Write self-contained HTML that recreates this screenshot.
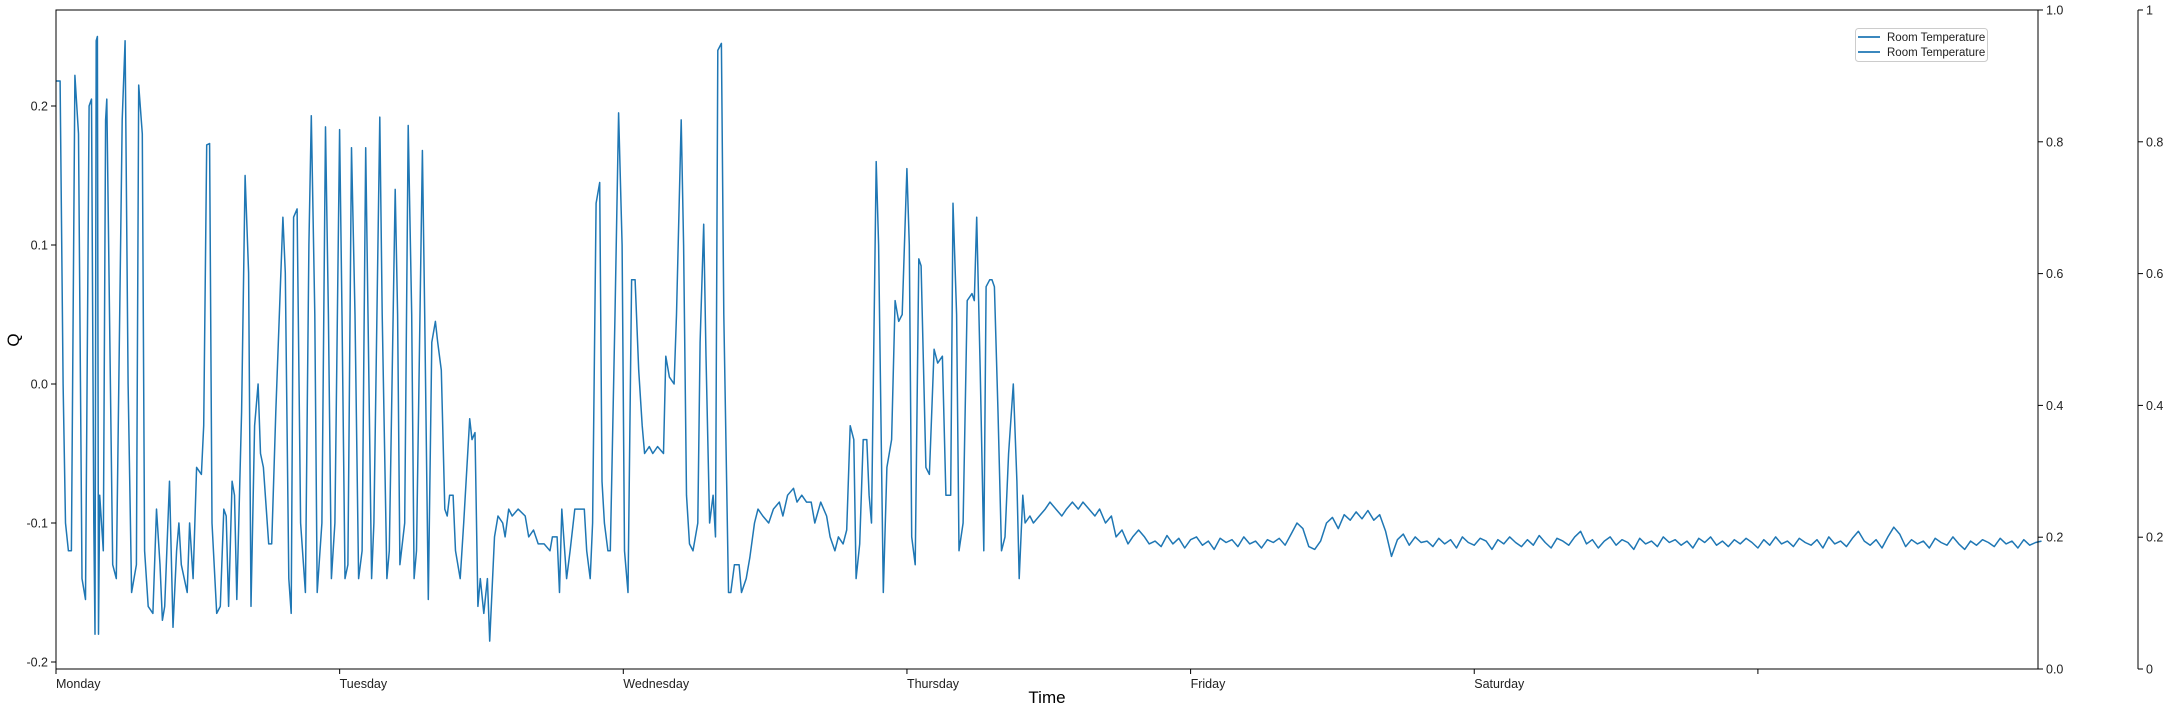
<!DOCTYPE html>
<html><head><meta charset="utf-8"><style>
html,body{margin:0;padding:0;background:#fff;}
svg{display:block;font-family:"Liberation Sans","DejaVu Sans",sans-serif;}
</style></head><body>
<svg id="chart" width="2168" height="712" viewBox="0 0 2168 712"></svg>
<script>
// ---- data ----
const dayLabels = ["Monday","Tuesday","Wednesday","Thursday","Friday","Saturday",""];
const leftTicks = [-0.2,-0.1,0.0,0.1,0.2];
const rightTicks = [0.0,0.2,0.4,0.6,0.8,1.0];
const rightTicks2 = [0,0.2,0.4,0.6,0.8,1];
// active period: hours since Monday 00:00
const activeHours = [0,.35,.6,.8,1.05,1.3,1.6,1.9,2.2,2.5,2.8,3.0,3.2,3.3,3.4,3.5,3.6,3.7,4.0,4.2,4.3,4.6,4.8,5.1,5.6,5.85,6.1,6.4,6.8,7.0,7.3,7.5,7.8,8.2,8.5,8.8,9.0,9.2,9.6,9.9,10.2,10.4,10.6,11.1,11.3,11.6,11.9,12.3,12.5,12.75,13.0,13.2,13.6,13.9,14.2,14.4,14.6,14.9,15.1,15.3,15.7,16.0,16.3,16.5,16.8,17.1,17.3,17.55,18.0,18.25,18.6,19.2,19.4,19.7,19.9,20.1,20.4,20.7,21.1,21.4,21.6,21.9,22.1,22.5,22.8,23.05,23.3,23.6,24.0,24.2,24.45,24.7,25.0,25.3,25.6,25.9,26.2,26.4,26.7,26.9,27.4,27.6,28.0,28.2,28.7,28.9,29.1,29.5,29.8,30.1,30.3,30.5,31.0,31.2,31.5,31.8,32.1,32.3,32.6,32.9,33.1,33.3,33.6,33.8,34.2,34.5,35.0,35.2,35.45,35.7,35.9,36.2,36.5,36.7,37.1,37.4,37.8,38.0,38.3,38.6,39.1,39.7,40.0,40.4,40.8,41.3,41.8,42.0,42.4,42.6,42.8,43.2,43.5,43.9,44.3,44.7,44.9,45.2,45.4,45.7,46.0,46.2,46.4,46.7,46.9,47.3,47.6,47.9,48.1,48.4,48.7,49.0,49.3,49.6,49.8,50.2,50.5,50.9,51.4,51.6,51.9,52.3,52.5,52.9,53.1,53.35,53.6,53.9,54.3,54.5,54.8,55.0,55.3,55.6,55.8,56.0,56.3,56.5,56.9,57.1,57.4,57.8,58.0,58.4,58.7,59.1,59.4,59.8,60.3,60.7,61.2,61.5,61.9,62.4,62.7,63.1,63.5,63.9,64.2,64.7,65.2,65.5,65.9,66.2,66.6,66.9,67.2,67.5,67.7,68.0,68.3,68.6,68.8,69.0,69.4,69.6,70.0,70.3,70.7,71.0,71.3,71.6,72.0,72.2,72.4,72.7,73.0,73.2,73.6,73.9,74.3,74.6,75.0,75.3,75.7,75.9,76.2,76.4,76.75,77.1,77.5,77.7,77.9,78.2,78.5,78.7,79.0,79.2,79.4,79.7,80.0,80.3,80.6,81.0,81.3,81.5,81.8,82.0,82.4,82.7,83.2,83.7,84.1,84.6,85.1,85.5,86.0,86.5,86.9,87.4,87.9,88.3,88.8,89.3,89.7,90.2,90.7,91.1,91.6,92.1,92.5];
const activeValues = [.218,.218,0,-.10,-.12,-.12,.222,.18,-.14,-.155,.2,.205,-.10,-.18,.247,.25,-.18,-.08,-.12,.19,.205,0,-.13,-.14,.19,.247,0,-.15,-.13,.215,.18,-.12,-.16,-.165,-.09,-.13,-.17,-.16,-.07,-.175,-.12,-.10,-.13,-.15,-.10,-.14,-.06,-.065,-.03,.172,.173,-.10,-.165,-.16,-.09,-.095,-.16,-.07,-.08,-.155,-.02,.15,.08,-.16,-.03,0,-.05,-.06,-.115,-.115,-.02,.12,.08,-.14,-.165,.12,.126,-.10,-.15,.10,.193,.05,-.15,-.10,.185,.05,-.14,-.10,.183,.05,-.14,-.13,.17,.05,-.14,-.12,.17,.05,-.14,-.10,.192,.05,-.14,-.12,.14,.05,-.13,-.10,.186,.05,-.14,-.12,.168,.05,-.155,.03,.045,.03,.01,-.09,-.095,-.08,-.08,-.12,-.14,-.10,-.025,-.04,-.035,-.16,-.14,-.165,-.14,-.185,-.11,-.095,-.10,-.11,-.09,-.095,-.09,-.095,-.11,-.105,-.115,-.115,-.12,-.11,-.11,-.15,-.09,-.14,-.12,-.09,-.09,-.09,-.12,-.14,-.10,.13,.145,-.07,-.10,-.12,-.12,.05,.195,.10,-.12,-.15,.075,.075,.01,-.03,-.05,-.045,-.05,-.045,-.05,.02,.005,0,.05,.19,.10,-.08,-.115,-.12,-.10,.03,.115,.02,-.10,-.08,-.11,.24,.245,.05,-.15,-.15,-.13,-.13,-.15,-.14,-.125,-.10,-.09,-.095,-.10,-.09,-.085,-.095,-.08,-.075,-.085,-.08,-.085,-.085,-.10,-.085,-.095,-.11,-.12,-.11,-.115,-.105,-.03,-.04,-.14,-.115,-.04,-.04,-.08,-.10,.16,.10,-.15,-.06,-.04,.06,.045,.05,.155,.10,-.11,-.13,.09,.085,-.06,-.065,.025,.015,.02,-.08,-.08,.13,.05,-.12,-.10,.06,.065,.06,.12,.01,-.12,.07,.075,.075,.07,-.02,-.12,-.11,-.05,0,-.07,-.14,-.08,-.10,-.095,-.10,-.095,-.09,-.085,-.09,-.095,-.09,-.085,-.09,-.085,-.09,-.095,-.09,-.10,-.095,-.11,-.105,-.115,-.11,-.105,-.11,-.115];
// calm period: half-hourly from hour 93
const calmStartHour = 93;
const calmStepHours = 0.5;
const calmValues = [-.113,-.117,-.109,-.115,-.111,-.118,-.112,-.110,-.116,-.113,-.119,-.111,-.114,-.112,-.117,-.110,-.115,-.113,-.118,-.112,-.114,-.111,-.116,
-.108,-.100,-.104,-.117,-.119,-.113,
-.100,-.096,-.104,-.094,-.098,-.092,-.097,-.091,-.098,-.094,
-.106,-.124,
-.112,-.108,-.116,-.110,-.114,-.113,-.117,-.111,-.115,-.112,
-.118,-.110,-.114,-.116,-.111,-.113,-.119,-.112,-.115,-.110,
-.114,-.117,-.112,-.116,-.109,-.114,-.118,-.111,-.113,-.116,
-.110,-.106,-.115,-.112,-.118,-.113,-.110,-.116,-.112,-.114,
-.119,-.111,-.115,-.113,-.117,-.110,-.114,-.112,-.116,-.113,
-.118,-.111,-.114,-.110,-.116,-.113,-.117,-.112,-.115,-.111,
-.114,-.118,-.112,-.116,-.110,-.115,-.113,-.117,-.111,-.114,
-.116,-.112,-.118,-.110,-.115,-.113,-.117,-.111,-.106,-.113,
-.116,-.112,-.118,-.110,-.103,-.108,-.117,-.112,-.115,-.113,
-.118,-.111,-.114,-.116,-.110,-.115,-.119,-.113,-.116,-.112,
-.114,-.117,-.111,-.115,-.113,-.118,-.112,-.116,-.114,-.113];

// ---- layout ----
const NS="http://www.w3.org/2000/svg";
const svg=document.getElementById('chart');
const L=56,R=2038,T=10,B=669;
const xHour=h=>L+(h/168)*(R-L)*(168/167.7);
const yQ=v=>384-1390*v;
const yR=v=>B-(B-T)*v;
function mk(tag,attrs,parent){const e=document.createElementNS(NS,tag);for(const k in attrs)e.setAttribute(k,attrs[k]);(parent||svg).appendChild(e);return e;}

// series
const pts=[];
for(let i=0;i<activeHours.length;i++)pts.push(xHour(activeHours[i]).toFixed(1)+','+yQ(activeValues[i]).toFixed(1));
for(let i=0;i<calmValues.length;i++){const h=calmStartHour+i*calmStepHours;pts.push(xHour(h).toFixed(1)+','+yQ(calmValues[i]).toFixed(1));}
const line=mk('polyline',{points:pts.join(' '),fill:'none',stroke:'#1f77b4','stroke-width':1.5,'stroke-linejoin':'round'});



// frame
const frame=mk('rect',{x:L,y:T,width:R-L,height:B-T,fill:'none',stroke:'#000','stroke-width':1});



// x ticks
dayLabels.forEach((d,i)=>{const x=xHour(i*24);
  const t=mk('line',{x1:x,y1:B,x2:x,y2:B+5,stroke:'#000'});
  
  
  if(d){const tx=mk('text',{x:x,y:B+19,'font-size':12.5,fill:'#222'});tx.textContent=d;
  
  }
});
// left ticks
leftTicks.forEach(v=>{const y=yQ(v);
  const t=mk('line',{x1:L-5,y1:y,x2:L,y2:y,stroke:'#000'});
  
  
  const tx=mk('text',{x:L-8,y:y+4.5,'font-size':12.5,'text-anchor':'end',fill:'#222'});tx.textContent=v.toFixed(1);
  
  
});
// right axis 1 ticks
rightTicks.forEach(v=>{const y=yR(v);
  const t=mk('line',{x1:R,y1:y,x2:R+5,y2:y,stroke:'#000'});
  
  
  const tx=mk('text',{x:R+8,y:y+4.5,'font-size':12.5,fill:'#222'});tx.textContent=v.toFixed(1);
  
  
});
// right axis 2
const R2=2138;
const ax2=mk('line',{x1:R2,y1:T,x2:R2,y2:B,stroke:'#000'});


rightTicks2.forEach(v=>{const y=yR(v);
  const t=mk('line',{x1:R2,y1:y,x2:R2+5,y2:y,stroke:'#000'});
  
  
  const tx=mk('text',{x:R2+8,y:y+4.5,'font-size':12.5,fill:'#222'});tx.textContent=String(v);
  
  
});
// axis titles
const xt=mk('text',{x:1047,y:703,'font-size':17,'text-anchor':'middle',fill:'#000'});xt.textContent='Time';


const yt=mk('text',{x:19,y:340,'font-size':17,'text-anchor':'middle',fill:'#000',transform:'rotate(-90 19 340)'});yt.textContent='Q';


// legend
const lg=mk('g',{});


mk('rect',{x:1855.5,y:28.5,width:132,height:33,rx:3,fill:'#fff',stroke:'#ccc'},lg);
[37,52].forEach(y=>{
  const e=mk('g',{},lg);
  
  
  mk('line',{x1:1858,y1:y,x2:1880,y2:y,stroke:'#1f77b4','stroke-width':1.8},e);
  const t=mk('text',{x:1887,y:y+4,'font-size':11.5,fill:'#222'},e);t.textContent='Room Temperature';
});
</script>
</body></html>
